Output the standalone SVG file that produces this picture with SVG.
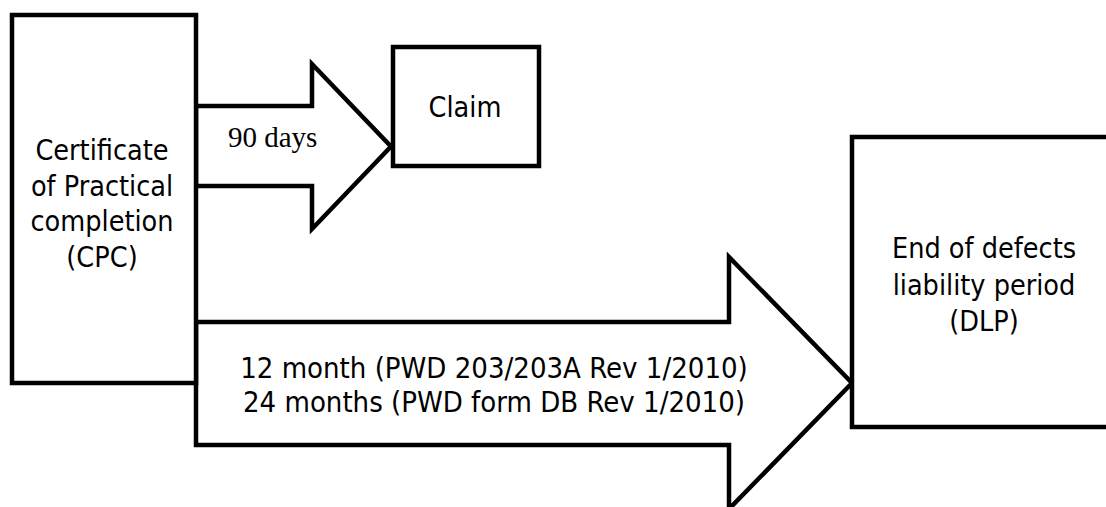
<svg xmlns="http://www.w3.org/2000/svg" width="1106" height="507" viewBox="0 0 1106 507">
<style>
.shape{fill:#fff;stroke:#000;stroke-width:4.5;stroke-linejoin:miter}
.t{font-family:"DejaVu Sans Condensed","DejaVu Sans",sans-serif;font-size:28.5px;fill:#000;text-anchor:middle}
.a{font-size:29px}
.s{font-family:"Liberation Serif","Times New Roman",serif;font-size:29px;fill:#000}
</style>
<rect width="1106" height="507" fill="#fff"/>
<g id="connectors">
<g id="arrow-90days">
<path class="shape" d="M196,106 H312 V64 L391,146.5 L312,229 V186 H196 Z"/>
<text class="s" x="228" y="147">90 days</text>
</g>
<g id="arrow-dlp">
<path class="shape" d="M196,322 H729 V257 L852,383 L729,509 V445 H196 Z"/>
<text class="t a" x="494" y="378">12 month (PWD 203/203A Rev 1/2010)</text>
<text class="t a" x="494" y="412">24 months (PWD form DB Rev 1/2010)</text>
</g>
</g>
<g id="cpc">
<rect class="shape" x="12" y="15" width="184" height="368"/>
<text class="t" x="102" y="160">Certificate</text>
<text class="t" x="102" y="196">of Practical</text>
<text class="t" x="102" y="231">completion</text>
<text class="t" x="102" y="267">(CPC)</text>
</g>
<g id="claim">
<rect class="shape" x="393" y="47" width="146" height="119"/>
<text class="t" x="465" y="117">Claim</text>
</g>
<g id="dlp">
<rect class="shape" x="852" y="137" width="270" height="290"/>
<text class="t" x="984" y="258">End of defects</text>
<text class="t" x="984" y="295">liability period</text>
<text class="t" x="984" y="331">(DLP)</text>
</g>
</svg>
